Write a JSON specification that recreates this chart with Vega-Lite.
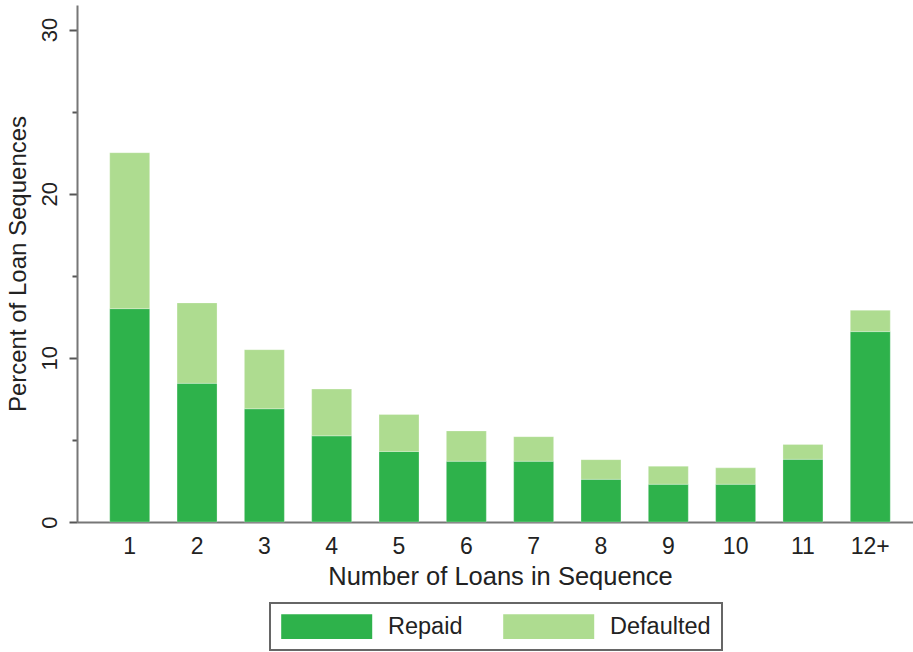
{
  "$schema": "https://vega.github.io/schema/vega-lite/v6.json",
  "autosize": "none",
  "width": 846,
  "height": 517,
  "padding": {"left": 77, "top": 5, "right": 0, "bottom": 130},
  "background": "white",
  "config": {
    "font": "Liberation Sans",
    "view": {"stroke": null},
    "legend": {"strokeColor": "#666", "strokeWidth": 2}
  },
  "data": {
    "values": [
      {"loans": "1", "status": "Repaid", "percent": 13.0},
      {"loans": "1", "status": "Defaulted", "percent": 9.5},
      {"loans": "2", "status": "Repaid", "percent": 8.45},
      {"loans": "2", "status": "Defaulted", "percent": 4.9},
      {"loans": "3", "status": "Repaid", "percent": 6.9},
      {"loans": "3", "status": "Defaulted", "percent": 3.6},
      {"loans": "4", "status": "Repaid", "percent": 5.25},
      {"loans": "4", "status": "Defaulted", "percent": 2.85},
      {"loans": "5", "status": "Repaid", "percent": 4.3},
      {"loans": "5", "status": "Defaulted", "percent": 2.25},
      {"loans": "6", "status": "Repaid", "percent": 3.7},
      {"loans": "6", "status": "Defaulted", "percent": 1.85},
      {"loans": "7", "status": "Repaid", "percent": 3.7},
      {"loans": "7", "status": "Defaulted", "percent": 1.5},
      {"loans": "8", "status": "Repaid", "percent": 2.6},
      {"loans": "8", "status": "Defaulted", "percent": 1.2},
      {"loans": "9", "status": "Repaid", "percent": 2.3},
      {"loans": "9", "status": "Defaulted", "percent": 1.1},
      {"loans": "10", "status": "Repaid", "percent": 2.3},
      {"loans": "10", "status": "Defaulted", "percent": 1.0},
      {"loans": "11", "status": "Repaid", "percent": 3.82},
      {"loans": "11", "status": "Defaulted", "percent": 0.9},
      {"loans": "12+", "status": "Repaid", "percent": 11.6},
      {"loans": "12+", "status": "Defaulted", "percent": 1.3}
    ]
  },
  "transform": [
    {"calculate": "datum.status === 'Repaid' ? 0 : 1", "as": "ord"}
  ],
  "mark": {"type": "bar", "stroke": "#ffffff", "strokeOpacity": 0.35, "strokeWidth": 0.8},
  "encoding": {
    "x": {
      "field": "loans",
      "type": "ordinal",
      "sort": ["1","2","3","4","5","6","7","8","9","10","11","12+"],
      "scale": {"paddingInner": 0.406, "paddingOuter": 0.486},
      "axis": {
        "title": "Number of Loans in Sequence",
        "titleFontSize": 25.5,
        "titleFontWeight": "normal",
        "titleColor": "#222",
        "titlePadding": 6,
        "labelAngle": 0,
        "labelFontSize": 23,
        "labelColor": "#222",
        "labelPadding": 13,
        "ticks": false,
        "domainColor": "#777",
        "domainWidth": 2
      }
    },
    "y": {
      "field": "percent",
      "type": "quantitative",
      "stack": "zero",
      "scale": {"domain": [0, 31.5], "nice": false},
      "axis": {
        "title": "Percent of Loan Sequences",
        "titleFontSize": 24,
        "titleFontWeight": "normal",
        "titleColor": "#222",
        "titlePadding": 8,
        "values": [0, 5, 10, 15, 20, 25, 30],
        "labelExpr": "datum.value % 10 === 0 ? datum.label : ''",
        "labelAngle": -90,
        "labelAlign": "center",
        "labelBaseline": "bottom",
        "labelFontSize": 22,
        "labelColor": "#222",
        "labelPadding": 8,
        "tickColor": "#555",
        "tickWidth": 2,
        "tickSize": {"condition": {"test": "datum.value % 10 === 0", "value": 8}, "value": 5},
        "grid": false,
        "domainColor": "#777",
        "domainWidth": 2
      }
    },
    "color": {
      "field": "status",
      "type": "nominal",
      "scale": {"domain": ["Repaid", "Defaulted"], "range": ["#2eb24b", "#aedc90"]},
      "legend": {
        "title": null,
        "orient": "none",
        "direction": "horizontal",
        "legendX": 193,
        "legendY": 598,
        "symbolType": "M-1,-1H6.4V1H-1Z",
        "symbolSize": 605,
        "symbolStrokeWidth": 0,
        "symbolOpacity": 1,
        "labelFontSize": 23.5,
        "labelColor": "#222",
        "labelOffset": 82,
        "columnPadding": 40,
        "padding": 11,
        "fillColor": "white"
      }
    },
    "order": {"field": "ord", "type": "quantitative"}
  }
}
